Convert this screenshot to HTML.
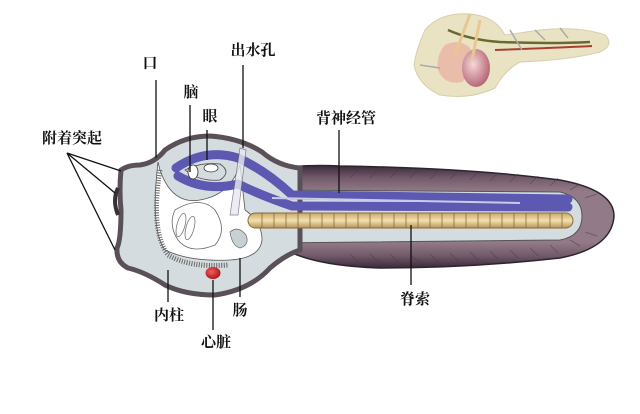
<!DOCTYPE html>
<html><head><meta charset="utf-8"><style>
html,body{margin:0;padding:0;background:#fff;}
svg{display:block}
text{font-family:"Liberation Serif","Noto Serif CJK SC","Noto Sans CJK SC",serif;font-size:15px;fill:#111;text-anchor:middle;font-weight:bold}
</style></head><body>
<svg width="640" height="414" viewBox="0 0 640 414" xmlns="http://www.w3.org/2000/svg">
<defs>
<linearGradient id="tail" x1="0" y1="0" x2="0" y2="1">
<stop offset="0" stop-color="#3a2a38"/><stop offset="0.12" stop-color="#725a6a"/><stop offset="0.25" stop-color="#927a88"/><stop offset="0.75" stop-color="#927a88"/><stop offset="0.88" stop-color="#725a6a"/><stop offset="1" stop-color="#3a2a38"/>
</linearGradient>
<linearGradient id="noto" x1="0" y1="0" x2="0" y2="1">
<stop offset="0" stop-color="#c7a86a"/><stop offset="0.5" stop-color="#f3e1b0"/><stop offset="1" stop-color="#b89558"/>
</linearGradient>
<radialGradient id="heart" cx="0.4" cy="0.4" r="0.6"><stop offset="0" stop-color="#f06060"/><stop offset="1" stop-color="#b01818"/></radialGradient>
<radialGradient id="pink" cx="0.4" cy="0.4" r="0.6"><stop offset="0" stop-color="#f4d8d8"/><stop offset="1" stop-color="#b86a78"/></radialGradient>
</defs>

<!-- inset -->
<g>
<path d="M425,30 Q440,12 470,14 Q495,16 505,35 L540,30 Q580,26 605,35 Q615,45 600,52 Q570,60 520,62 Q505,70 495,88 Q470,100 440,95 Q418,85 414,65 Q416,50 425,30Z" fill="#e9e3c4" stroke="#d7cfaa"/>
<path d="M445,45 Q460,38 470,48 Q478,68 462,82 Q445,86 438,70 Q436,55 445,45Z" fill="#eab8a8" opacity="0.9"/>
<ellipse cx="476" cy="68" rx="14" ry="19" fill="url(#pink)"/>
<path d="M448,30 Q470,40 500,42 Q550,44 590,42" stroke="#6a6a30" stroke-width="2.5" fill="none"/>
<path d="M495,50 Q550,48 592,46" stroke="#a84030" stroke-width="2" fill="none"/>
<path d="M470,14 L455,55 M480,20 L472,60" stroke="#e8c890" stroke-width="3" fill="none"/>
<path d="M420,65 L440,68 M510,30 L522,50 M535,30 L545,40 M560,28 L568,38" stroke="#aaa" stroke-width="1.5"/>
</g>

<!-- tail -->
<path d="M270,170 Q300,164 340,166 Q470,168 560,180 Q614,190 614,216 Q612,248 560,258 Q470,268 380,268 Q320,266 290,252 Z" fill="url(#tail)" stroke="#2e2430" stroke-width="1.5"/>
<g stroke="#4a3a48" stroke-width="0.8" opacity="0.6">
<path d="M350,178 l8,-8 M370,178 l8,-8 M390,178 l8,-8 M410,178 l8,-8 M430,179 l8,-8 M450,179 l8,-8 M470,180 l8,-8 M490,181 l8,-8 M510,182 l8,-8 M530,184 l8,-8 M550,186 l8,-8 M570,190 l10,-6 M585,198 l12,-4"/>
<path d="M350,254 l8,8 M370,254 l8,8 M390,254 l8,8 M410,254 l8,8 M430,254 l8,8 M450,253 l8,8 M470,252 l8,8 M490,251 l8,8 M510,250 l8,8 M530,248 l8,8 M550,245 l8,8 M570,240 l10,6 M585,232 l12,4"/>
</g>
<!-- tail inner light -->
<path d="M270,190 L560,192 Q582,197 582,216 Q582,236 560,240 L270,243 Z" fill="#d5dcdf" stroke="#555" stroke-width="1"/>

<!-- head -->
<path d="M121,170 Q128,165 140,165 Q155,163 165,150 Q185,136 210,136 Q240,138 262,152 Q278,166 300,168 L300,250 Q285,255 270,268 Q250,290 215,295 Q185,295 165,285 Q145,272 128,268 Q116,262 117,248 Q121,240 121,210 Q119,190 121,170Z" fill="#d5dcdf" stroke="#5a5058" stroke-width="5"/>
<path d="M118,188 Q112,200 118,215" stroke="#333" stroke-width="4" fill="none"/>
<!-- pharynx -->
<path d="M158,162 Q150,230 165,250 Q190,262 230,260 Q260,258 262,240 Q262,222 245,210 L240,165 Q230,195 200,200 Q172,205 160,170Z" fill="#fff" stroke="#555" stroke-width="0.8"/>
<path d="M160,170 Q150,230 168,255 Q190,268 228,265" stroke="#666" stroke-width="5" stroke-dasharray="1 1.5" fill="none"/>
<!-- nerve -->
<path d="M176,168 Q205,148 238,158 Q265,170 292,195 L568,199" stroke="#5d58b2" stroke-width="9" fill="none" stroke-linecap="round"/>
<path d="M178,176 Q205,192 238,184 Q260,195 292,206 L568,207" stroke="#5d58b2" stroke-width="9" fill="none" stroke-linecap="round"/>
<path d="M272,198 L520,203" stroke="#c8cbe8" stroke-width="2" fill="none"/>
<path d="M185,170 Q200,162 220,164 Q232,172 220,180 Q200,182 185,170Z" fill="#d5dcdf" stroke="#444" stroke-width="0.8"/>
<ellipse cx="193" cy="172" rx="5" ry="7" fill="#fff" stroke="#333" stroke-width="0.8"/>
<ellipse cx="211" cy="168" rx="7" ry="4" fill="#fff" stroke="#333" stroke-width="0.8"/>
<path d="M240,148 L246,150 L238,215 L230,215Z" fill="#e8e8f4" stroke="#666" stroke-width="0.7" opacity="0.8"/>
<path d="M175,210 Q200,195 215,210 Q228,230 215,245 Q190,255 178,240 Q168,225 175,210Z" fill="#fff" stroke="#666" stroke-width="0.8"/>
<ellipse cx="181" cy="225" rx="4" ry="12" fill="none" stroke="#777" stroke-width="0.8" transform="rotate(15 181 225)"/>
<ellipse cx="190" cy="228" rx="4" ry="12" fill="none" stroke="#777" stroke-width="0.8" transform="rotate(15 190 228)"/>
<path d="M230,232 Q238,225 246,235 Q250,245 240,248 Q232,246 230,232Z" fill="#c9d0d3" stroke="#666" stroke-width="0.7"/>
<ellipse cx="213" cy="273" rx="7.5" ry="6" fill="url(#heart)"/>
<!-- notochord -->
<rect x="248" y="213" width="325" height="15" rx="7.5" fill="url(#noto)" stroke="#8a6a38" stroke-width="1"/>
<g stroke="#8a6a38" stroke-width="0.8">
<path d="M262,213v15M274,213v15M286,213v15M298,213v15M310,213v15M322,213v15M334,213v15M346,213v15M358,213v15M370,213v15M382,213v15M394,213v15M406,213v15M418,213v15M430,213v15M442,213v15M454,213v15M466,213v15M478,213v15M490,213v15M502,213v15M514,213v15M526,213v15M538,213v15M550,213v15M562,213v15"/>
</g>

<!-- leader lines -->
<g stroke="#111" stroke-width="1.3" fill="none">
<path d="M67,153 L121,171 M67,153 L115,193 M67,153 L115,250"/>
<path d="M156,80 V158 M190,105 V172 M207,130 V160 M243,65 V148 M339,130 V193 M411,225 V285 M168,270 V302 M213,280 V330 M240,258 V297"/>
</g>
<text x="72" y="143">附着突起</text>
<text x="150" y="68">口</text>
<text x="191" y="97">脑</text>
<text x="210" y="121">眼</text>
<text x="253" y="55">出水孔</text>
<text x="346" y="123">背神经管</text>
<text x="415" y="304">脊索</text>
<text x="169" y="320">内柱</text>
<text x="216" y="347">心脏</text>
<text x="240" y="315">肠</text>
</svg>
</body></html>
